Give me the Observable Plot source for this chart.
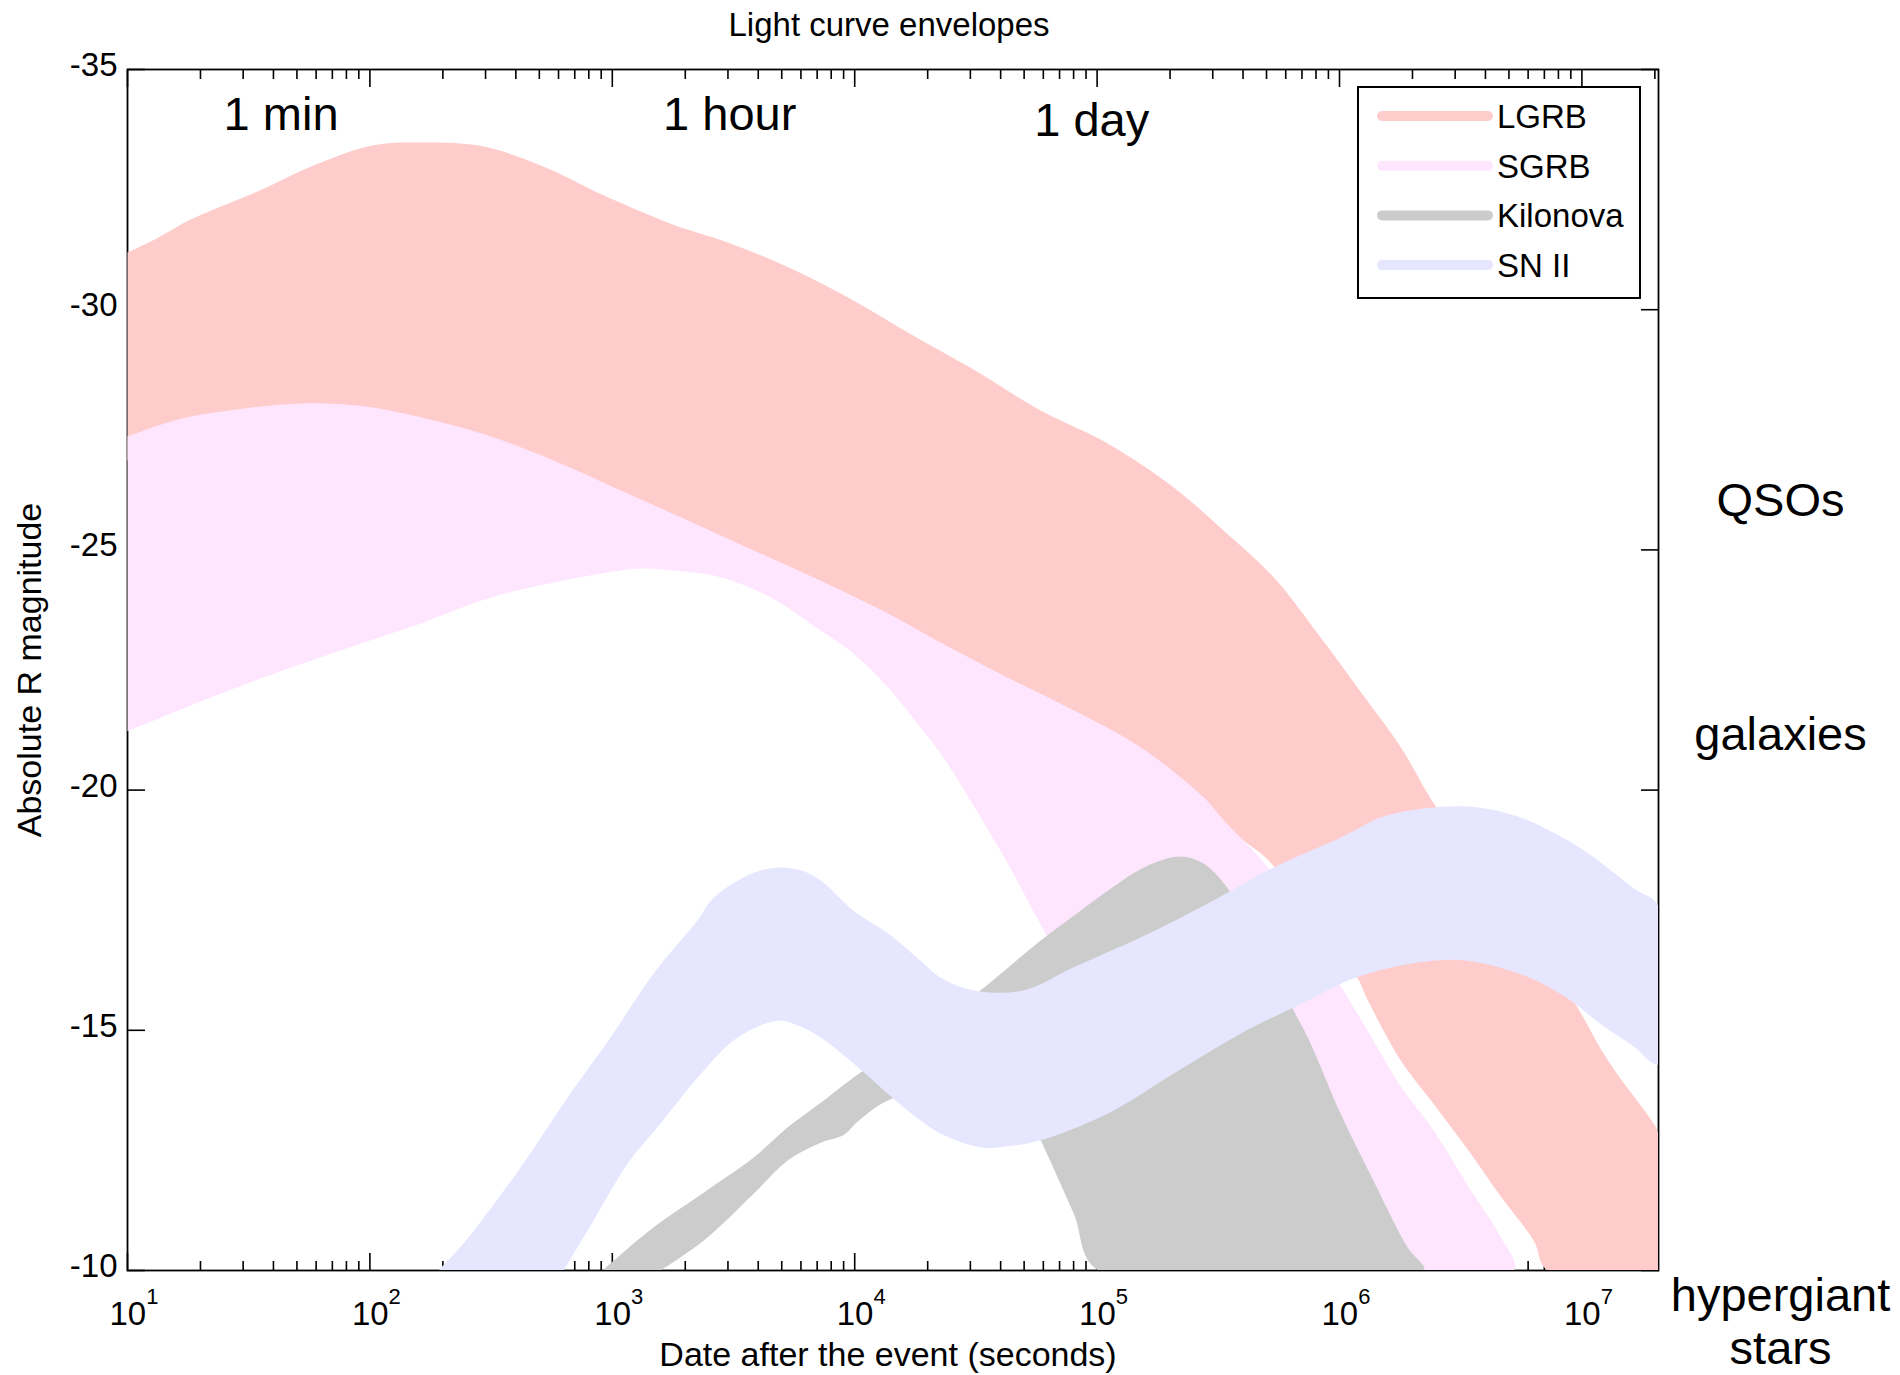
<!DOCTYPE html>
<html>
<head>
<meta charset="utf-8">
<script src="https://cdn.jsdelivr.net/npm/d3@7"></script>
<script src="https://cdn.jsdelivr.net/npm/@observablehq/plot@0.6"></script>
<style>
html, body { margin: 0; padding: 0; background: #fff; }
#chart { width: 1900px; height: 1375px; }
</style>
</head>
<body>
<div id="chart"></div>
<script>
// ---------- text ----------
const titleText = "Light curve envelopes";
const xLabel = "Date after the event (seconds)";
const yLabel = "Absolute R magnitude";

// ---------- series ----------
const seriesNames = ["LGRB", "SGRB", "Kilonova", "SN II"];
const seriesColors = ["#FFCCCC", "#FFE6FF", "#CCCCCC", "#E6E6FF"];

// LGRB envelope (time in seconds, absolute R magnitude)
const lgrbBrightT = [10, 13.2, 17.9, 24.9, 35.1, 58.5, 102, 168, 292, 531, 921, 1740, 2990, 5340, 9440, 16900, 29800, 58500, 111000, 207000, 333000, 535000, 813000, 1.28e6, 1.79e6, 2.45e6, 4.63e6, 9.26e6, 1.20e7, 1.45e7, 1.87e7, 2.07e7];
const lgrbBrightMag = [-31.19, -31.48, -31.86, -32.17, -32.48, -33.00, -33.42, -33.48, -33.40, -32.96, -32.38, -31.79, -31.40, -30.88, -30.25, -29.50, -28.80, -27.90, -27.21, -26.30, -25.40, -24.43, -23.26, -21.91, -20.89, -19.72, -17.70, -15.60, -14.60, -13.98, -13.23, -12.83];
const lgrbFaintT = [10, 94.2, 1080, 13700, 80000, 275000, 391000, 520000, 726000, 1.17e6, 1.31e6, 1.79e6, 2.45e6, 3.38e6, 4.63e6, 6.33e6, 7.23e6, 2.07e7];
const lgrbFaintMag = [-26.86, -27.49, -25.72, -23.11, -21.14, -19.58, -18.99, -18.49, -17.45, -16.14, -15.62, -14.37, -13.46, -12.52, -11.54, -10.62, -10.00, -10.00];

// SGRB envelope
const sgrbBrightT = [10, 16.9, 29.8, 53.2, 94.2, 162, 306, 573, 1080, 2050, 3830, 7240, 13700, 22600, 42800, 80000, 151000, 275000, 333000, 506000, 726000, 1.04e6, 1.31e6, 1.79e6, 2.45e6, 3.38e6, 4.63e6, 5.24e6];
const sgrbBrightMag = [-27.36, -27.74, -27.94, -28.05, -27.99, -27.76, -27.38, -26.86, -26.24, -25.61, -24.99, -24.36, -23.68, -23.07, -22.34, -21.66, -20.89, -19.85, -19.37, -18.39, -17.12, -15.83, -14.98, -13.83, -12.91, -11.77, -10.69, -10.00];
const sgrbFaintT = [10, 29.8, 94.2, 162, 306, 573, 1270, 1790, 2800, 4500, 7240, 9900, 13700, 18700, 22600, 30100, 42800, 62500, 103000, 166000, 268000, 356000];
const sgrbFaintMag = [-21.22, -22.18, -23.07, -23.47, -23.99, -24.32, -24.61, -24.57, -24.43, -24.01, -23.32, -22.84, -22.14, -21.30, -20.76, -19.78, -18.47, -16.93, -15.00, -13.12, -11.25, -10.00];

// Kilonova envelope
const kiloBrightT = [912, 1480, 2380, 3830, 5290, 7450, 9900, 18700, 32200, 58500, 85500, 111000, 162000, 221000, 275000, 346000, 473000, 647000, 740000, 1.01e6, 1.38e6, 1.91e6, 2.23e6];
const kiloBrightMag = [-10.00, -10.90, -11.62, -12.35, -12.98, -13.54, -14.02, -14.93, -15.79, -16.87, -17.49, -17.91, -18.43, -18.62, -18.47, -17.95, -16.77, -15.41, -14.85, -13.27, -11.87, -10.48, -10.00];
const kiloFaintT = [1580, 2380, 3830, 5290, 7240, 9000, 10300, 13700, 24900, 40000, 53200, 58500, 80000, 101000];
const kiloFaintMag = [-10.00, -10.62, -11.60, -12.29, -12.66, -12.82, -13.10, -13.54, -13.85, -13.64, -13.12, -12.71, -11.19, -10.00];

// SN II envelope
const sn2BrightT = [192, 243, 418, 654, 984, 1480, 2250, 2620, 3830, 4950, 5980, 7240, 9900, 13700, 18700, 22600, 31000, 49800, 80000, 151000, 286000, 535000, 1.01e6, 1.52e6, 2.45e6, 3.72e6, 5.44e6, 8.75e6, 1.20e7, 1.64e7, 2.07e7];
const sn2BrightMag = [-10.00, -10.56, -12.14, -13.60, -14.85, -16.18, -17.29, -17.76, -18.28, -18.39, -18.33, -18.12, -17.49, -17.02, -16.45, -16.10, -15.83, -15.83, -16.31, -16.93, -17.64, -18.39, -19.01, -19.45, -19.64, -19.64, -19.45, -18.95, -18.49, -17.95, -17.58];
const sn2FaintT = [630, 837, 1160, 1580, 2380, 3290, 4810, 5820, 7240, 9900, 13700, 18700, 22600, 33100, 45300, 58500, 111000, 207000, 391000, 740000, 1.11e6, 1.79e6, 2.88e6, 3.94e6, 6.33e6, 8.75e6, 1.20e7, 1.64e7, 2.07e7];
const sn2FaintMag = [-10.00, -11.04, -12.23, -13.06, -14.16, -14.85, -15.20, -15.10, -14.85, -14.31, -13.68, -13.12, -12.85, -12.56, -12.60, -12.71, -13.27, -14.10, -14.93, -15.62, -16.06, -16.35, -16.47, -16.39, -16.06, -15.66, -15.12, -14.66, -14.29];

// ---------- axes ----------
const xDomain = [10, 2.07e7];
const yDomain = [-35, -10];
const xMajorTicks = [1e1, 1e2, 1e3, 1e4, 1e5, 1e6, 1e7];
const minorMultipliers = [2, 3, 4, 5, 6, 7, 8, 9];
const xMinorTicks = xMajorTicks.flatMap(d => minorMultipliers.map(m => m * d)).filter(v => v <= xDomain[1]);
const yTicks = [-35, -30, -25, -20, -15, -10];

// ---------- annotations ----------
const timeMarks = ["1 min", "1 hour", "1 day"];
const timeMarkT = [43, 3050, 95000];
const timeMarkMag = [-34.06, -34.06, -33.92];
const classLabels = ["QSOs", "galaxies", "hypergiant\nstars"];
const classMag = [-26.05, -21.18, -8.96];

// ---------- build ----------
function envelope(bt, bm, ft, fm) {
  const pts = bt.map((t, i) => ({t, mag: bm[i]}));
  for (let i = ft.length - 1; i >= 0; i--) pts.push({t: ft[i], mag: fm[i]});
  return pts;
}
const envelopes = [
  envelope(lgrbBrightT, lgrbBrightMag, lgrbFaintT, lgrbFaintMag),
  envelope(sgrbBrightT, sgrbBrightMag, sgrbFaintT, sgrbFaintMag),
  envelope(kiloBrightT, kiloBrightMag, kiloFaintT, kiloFaintMag),
  envelope(sn2BrightT, sn2BrightMag, sn2FaintT, sn2FaintMag)
];

const FONT = "'Liberation Sans', Arial, Helvetica, sans-serif";
const noText = () => "";

const plot = Plot.plot({
  width: 1900,
  height: 1375,
  marginLeft: 127,
  marginRight: 242,
  marginTop: 69,
  marginBottom: 105,
  x: {type: "log", domain: xDomain, axis: null},
  y: {domain: yDomain, reverse: true, axis: null},
  style: {fontFamily: FONT, fontSize: "33px", background: "white", color: "black", overflow: "visible"},
  marks: [
    Plot.frame({stroke: "black", strokeWidth: 1.8}),
    Plot.axisX({anchor: "bottom", ticks: xMinorTicks, tickSize: -9, tickFormat: noText, label: null, strokeWidth: 1.6}),
    Plot.axisX({anchor: "bottom", ticks: xMajorTicks, tickSize: -17, tickFormat: noText, label: null, strokeWidth: 1.6}),
    Plot.axisX({anchor: "top", ticks: xMinorTicks, tickSize: -9, tickFormat: noText, label: null, strokeWidth: 1.6}),
    Plot.axisX({anchor: "top", ticks: xMajorTicks, tickSize: -17, tickFormat: noText, label: null, strokeWidth: 1.6}),
    Plot.axisY({anchor: "left", ticks: yTicks, tickSize: -18, tickFormat: noText, label: null, strokeWidth: 1.6}),
    Plot.axisY({anchor: "right", ticks: yTicks, tickSize: -18, tickFormat: noText, label: null, strokeWidth: 1.6}),
    ...envelopes.map((pts, i) => Plot.line(pts, {x: "t", y: "mag", fill: seriesColors[i], stroke: "none",
      curve: "catmull-rom", clip: true})),
    Plot.axisX({anchor: "bottom", ticks: xMajorTicks, tickSize: 0, tickPadding: 31,
      tickFormat: d => "10^" + Math.round(Math.log10(d)), label: null, fontSize: 33}),
    Plot.axisY({anchor: "left", ticks: yTicks, tickSize: 0, tickPadding: 10,
      tickFormat: d => String(d), label: null, fontSize: 33, dy: -4}),
    Plot.text([titleText], {frameAnchor: "top", dy: -44, dx: -4, fontSize: 33, lineAnchor: "middle"}),
    Plot.text([xLabel], {frameAnchor: "bottom", dy: 85, dx: -5, fontSize: 34, lineAnchor: "middle"}),
    Plot.text([yLabel], {frameAnchor: "left", dx: -97, rotate: -90, fontSize: 34, lineAnchor: "middle", textAnchor: "middle"}),
    Plot.text(timeMarks, {x: (d, i) => timeMarkT[i], y: (d, i) => timeMarkMag[i], fontSize: 47, lineAnchor: "middle"}),
    Plot.text(classLabels, {frameAnchor: "right", y: (d, i) => classMag[i], dx: 122, fontSize: 47,
      lineAnchor: "middle", textAnchor: "middle", lineHeight: 1.13})
  ]
});

// superscript exponents on the x tick labels
d3.select(plot).selectAll('g[aria-label="x-axis tick label"] text').each(function () {
  const s = this.textContent;
  if (!s || s.indexOf("^") < 0) return;
  const [b, e] = s.split("^");
  const t = d3.select(this);
  t.text(null).attr("text-anchor", "start");
  t.append("tspan").attr("dx", -18).text(b);
  t.append("tspan").attr("dy", -21).attr("font-size", 22).text(e);
});

// legend box (MATLAB style, inside the axes, top right)
const lg = d3.select(plot).append("g").attr("font-family", FONT).attr("font-size", 33).attr("text-anchor", "start");
lg.append("rect").attr("x", 1358).attr("y", 87).attr("width", 282).attr("height", 211)
  .attr("fill", "white").attr("stroke", "black").attr("stroke-width", 2);
seriesNames.forEach((name, i) => {
  const cy = 116 + i * 49.7;
  lg.append("line").attr("x1", 1382).attr("x2", 1488).attr("y1", cy).attr("y2", cy)
    .attr("stroke", seriesColors[i]).attr("stroke-width", 10).attr("stroke-linecap", "round");
  lg.append("text").attr("x", 1497).attr("y", cy).attr("dy", "0.36em")
    .attr("text-anchor", "start").attr("fill", "black").text(name);
});

document.getElementById("chart").appendChild(plot);
</script>
</body>
</html>
